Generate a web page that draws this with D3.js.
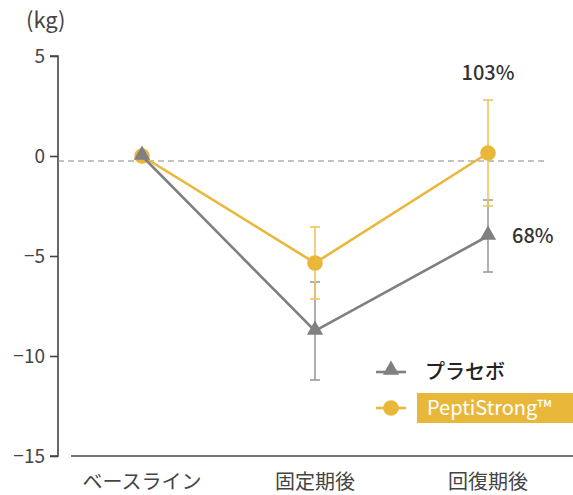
<!DOCTYPE html>
<html>
<head>
<meta charset="utf-8">
<script src="https://cdn.jsdelivr.net/npm/d3@7"></script>
<style>
  body { margin: 0; background: #fff; }
  text { font-family: "Noto Sans CJK JP", "Noto Sans", sans-serif; }
</style>
</head>
<body>
<div id="chart"></div>
<script>
// data
var categories = ["ベースライン", "固定期後", "回復期後"];
var placeboMean = [0, -8.75, -4.0];
var placeboErr = [0, 2.45, 1.8];
var peptiMean = [0, -5.35, 0.15];
var peptiErr = [0, 1.8, 2.65];
var yTicks = [5, 0, -5, -10, -15];
var pctLabels = ["103%", "68%"];
var refLine = -0.25;

var svgWidth = 573;
var svgHeight = 495;

var gray = "#808080";
var grayErr = "#9c9c9c";
var yellow = "#E9B83B";
var yellowErr = "#EFC65C";

var svg = d3.select("#chart").append("svg")
    .attr("width", svgWidth)
    .attr("height", svgHeight);

var x = d3.scalePoint()
    .domain(categories)
    .range([142, 488]);

var y = d3.scaleLinear()
    .domain([-15, 5])
    .range([456, 56]);

// y axis
var yAxis = svg.append("g")
    .attr("transform", "translate(58,0)")
    .call(d3.axisLeft(y).tickValues(yTicks).tickSize(8).tickPadding(5));
yAxis.select(".domain").attr("stroke", "#444").attr("stroke-width", 1.6)
    .attr("d", "M-8," + y(5) + "H0V" + y(-15) + "H-8");
yAxis.selectAll(".tick line").attr("stroke", "#444").attr("stroke-width", 1.6);
yAxis.selectAll(".tick text")
    .attr("fill", "#444")
    .style("font-size", "19px")
    .style("font-family", "'Noto Sans CJK JP', sans-serif");

// x axis line (detached from y axis)
svg.append("line")
    .attr("x1", 71).attr("x2", 573)
    .attr("y1", 456).attr("y2", 456)
    .attr("stroke", "#444").attr("stroke-width", 1.6);

svg.selectAll(".xlabel")
    .data(categories)
    .enter().append("text")
    .attr("class", "xlabel")
    .attr("x", d => x(d))
    .attr("y", 489)
    .attr("text-anchor", "middle")
    .attr("fill", "#444")
    .style("font-size", "20px")
    .text(d => d);

// unit
svg.append("text")
    .attr("x", 26).attr("y", 28)
    .attr("fill", "#444")
    .style("font-size", "22px")
    .text("(kg)");

// dashed reference line
svg.append("line")
    .attr("x1", 58).attr("x2", 547)
    .attr("y1", y(refLine)).attr("y2", y(refLine))
    .attr("stroke", "#888")
    .attr("stroke-width", 1.2)
    .attr("stroke-dasharray", "6,4");

function errorBars(means, errs, color) {
  var g = svg.append("g");
  categories.forEach(function(c, i) {
    if (errs[i] === 0) return;
    var cx = x(c);
    var top = y(means[i] + errs[i]);
    var bot = y(means[i] - errs[i]);
    g.append("line").attr("x1", cx).attr("x2", cx).attr("y1", top).attr("y2", bot)
        .attr("stroke", color).attr("stroke-width", 1.6);
    [top, bot].forEach(function(yy) {
      g.append("line").attr("x1", cx - 5).attr("x2", cx + 5).attr("y1", yy).attr("y2", yy)
          .attr("stroke", color).attr("stroke-width", 1.6);
    });
  });
}

var line = d3.line()
    .x((d, i) => x(categories[i]))
    .y(d => y(d));

// error bars first
errorBars(placeboMean, placeboErr, grayErr);
errorBars(peptiMean, peptiErr, yellowErr);

// PeptiStrong line and markers
svg.append("path")
    .datum(peptiMean)
    .attr("d", line)
    .attr("fill", "none")
    .attr("stroke", yellow)
    .attr("stroke-width", 2.6);

svg.selectAll(".pdot")
    .data(peptiMean)
    .enter().append("circle")
    .attr("class", "pdot")
    .attr("cx", (d, i) => x(categories[i]))
    .attr("cy", d => y(d))
    .attr("r", 7.8)
    .attr("fill", yellow);

// placebo line and markers
svg.append("path")
    .datum(placeboMean)
    .attr("d", line)
    .attr("fill", "none")
    .attr("stroke", gray)
    .attr("stroke-width", 2.6);

var tri = d3.symbol().type(d3.symbolTriangle).size(115);
svg.selectAll(".tri")
    .data(placeboMean)
    .enter().append("path")
    .attr("class", "tri")
    .attr("transform", (d, i) => "translate(" + x(categories[i]) + "," + (y(d) - 1) + ")")
    .attr("d", tri)
    .attr("fill", gray);

// percentage labels
svg.append("text")
    .attr("x", x(categories[2]))
    .attr("y", 80)
    .attr("text-anchor", "middle")
    .attr("fill", "#333")
    .style("font-size", "20px")
    .style("font-weight", "500")
    .text(pctLabels[0]);

svg.append("text")
    .attr("x", x(categories[2]) + 24)
    .attr("y", y(placeboMean[2]) + 7)
    .attr("fill", "#333")
    .style("font-size", "20px")
    .style("font-weight", "500")
    .text(pctLabels[1]);

// legend
var legend = svg.append("g");
legend.append("line")
    .attr("x1", 376).attr("x2", 406).attr("y1", 372).attr("y2", 372)
    .attr("stroke", gray).attr("stroke-width", 2.6);
legend.append("path")
    .attr("transform", "translate(391,370)")
    .attr("d", tri)
    .attr("fill", gray);
legend.append("text")
    .attr("x", 425).attr("y", 379)
    .attr("fill", "#222")
    .style("font-size", "20px")
    .style("font-weight", "500")
    .text("プラセボ");

legend.append("line")
    .attr("x1", 376).attr("x2", 406).attr("y1", 408).attr("y2", 408)
    .attr("stroke", yellow).attr("stroke-width", 2.6);
legend.append("circle")
    .attr("cx", 391).attr("cy", 408).attr("r", 7.8)
    .attr("fill", yellow);
legend.append("rect")
    .attr("x", 417).attr("y", 393).attr("width", 160).attr("height", 30)
    .attr("fill", yellow);
legend.append("text")
    .attr("x", 427).attr("y", 415)
    .attr("fill", "#fff")
    .style("font-size", "20px")
    .text("PeptiStrong™");
</script>
</body>
</html>
